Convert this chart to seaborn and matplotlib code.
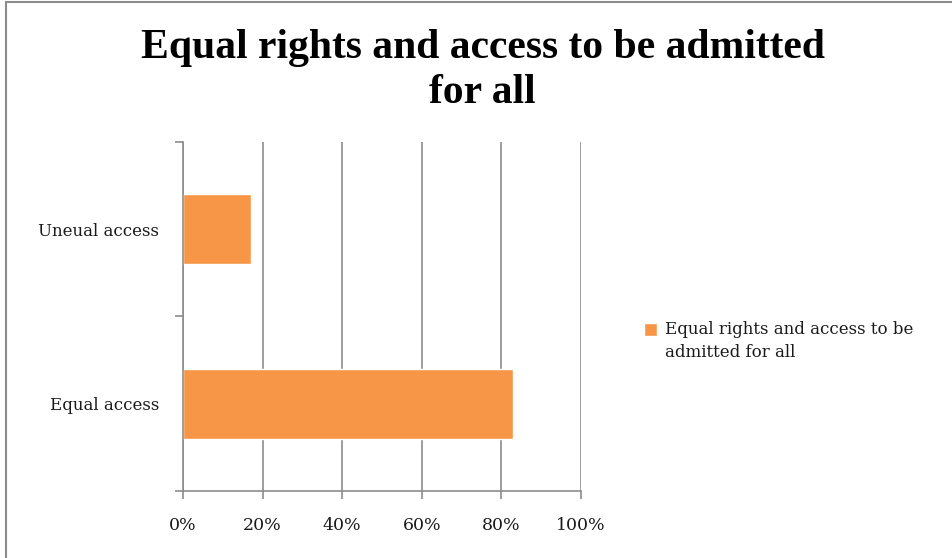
import matplotlib
matplotlib.use("Agg")
import matplotlib.pyplot as plt
import seaborn as sns
import pandas as pd
from matplotlib.patches import Rectangle
from matplotlib.container import BarContainer
from matplotlib.legend_handler import HandlerPatch
from matplotlib.ticker import FixedLocator, PercentFormatter

categories = ["Uneual access", "Equal access"]
shares = [17, 83]
series_name = "Equal rights and access to be\nadmitted for all"
title = "Equal rights and access to be admitted\nfor all"
x_ticks = [0, 20, 40, 60, 80, 100]

df = pd.DataFrame({"category": categories, "share": shares})

sns.set_theme(style="white")
plt.rcParams["font.family"] = ["DejaVu Serif", "Liberation Serif"]

fig = plt.figure(figsize=(9.52, 5.58), dpi=100)
ax = fig.add_axes([0.1922, 0.1201, 0.4181, 0.6254])

orange = "#F79646"
sns.barplot(data=df, x="share", y="category", orient="h", color=orange,
            width=0.4, saturation=1, label=series_name, ax=ax, zorder=3)

ax.set_xlim(0, 100)
ax.set_ylim(1.5, -0.5)
ax.xaxis.set_major_locator(FixedLocator(x_ticks))
ax.xaxis.set_major_formatter(PercentFormatter(decimals=0))
ax.grid(axis="x", color="#8c8c8c", linewidth=1.2, zorder=0)
ax.grid(axis="y", visible=False)

# category labels sit between boundary ticks, Excel style
ax.set_yticks([-0.5, 0.5, 1.5])
ax.set_yticklabels([])
ax.set_yticks([0, 1], minor=True)
ax.set_yticklabels(categories, minor=True)
ax.tick_params(axis="y", which="major", length=6, width=1.2, color="#8c8c8c", left=True)
ax.tick_params(axis="y", which="minor", length=0, pad=17, labelsize=12, labelcolor="#1a1a1a")
ax.tick_params(axis="x", length=6, width=1.2, color="#8c8c8c", bottom=True,
               labelsize=12.5, labelcolor="#1a1a1a", pad=13)
ax.set_xlabel("")
ax.set_ylabel("")

for side in ["top", "right"]:
    ax.spines[side].set_visible(False)
for side in ["left", "bottom"]:
    ax.spines[side].set_color("#8c8c8c")
    ax.spines[side].set_linewidth(1.2)
    ax.spines[side].set_zorder(4)

fig.text(0.507, 0.873, title, ha="center", va="center", fontsize=30,
         fontweight="bold", color="#000000", linespacing=1.25,
         family=["Liberation Serif", "DejaVu Serif"])


def top_line_square(legend, orig_handle, xdescent, ydescent, width, height, fontsize):
    # square marker lined up with the first line of a two-line label
    return Rectangle((-xdescent, -ydescent + 0.72 * fontsize), width, height)


def copy_bar_style(legend_handle, orig_handle):
    legend_handle.update_from(orig_handle[0])


leg = ax.legend(loc="center left", bbox_to_anchor=(1.12, 0.43), frameon=False,
                fontsize=12, handlelength=0.8, handleheight=0.8,
                handletextpad=0.45, labelcolor="#1a1a1a",
                handler_map={BarContainer: HandlerPatch(patch_func=top_line_square,
                                                        update_func=copy_bar_style)})
for t in leg.get_texts():
    t.set_linespacing(1.5)

# outer chart frame
fig.patches.append(Rectangle((6 / 952, -0.01), 1.0, 1 - 1.5 / 558 + 0.01,
                             transform=fig.transFigure, fill=False,
                             edgecolor="#8c8c8c", linewidth=1.5))

fig.savefig("out.png", dpi=100)
